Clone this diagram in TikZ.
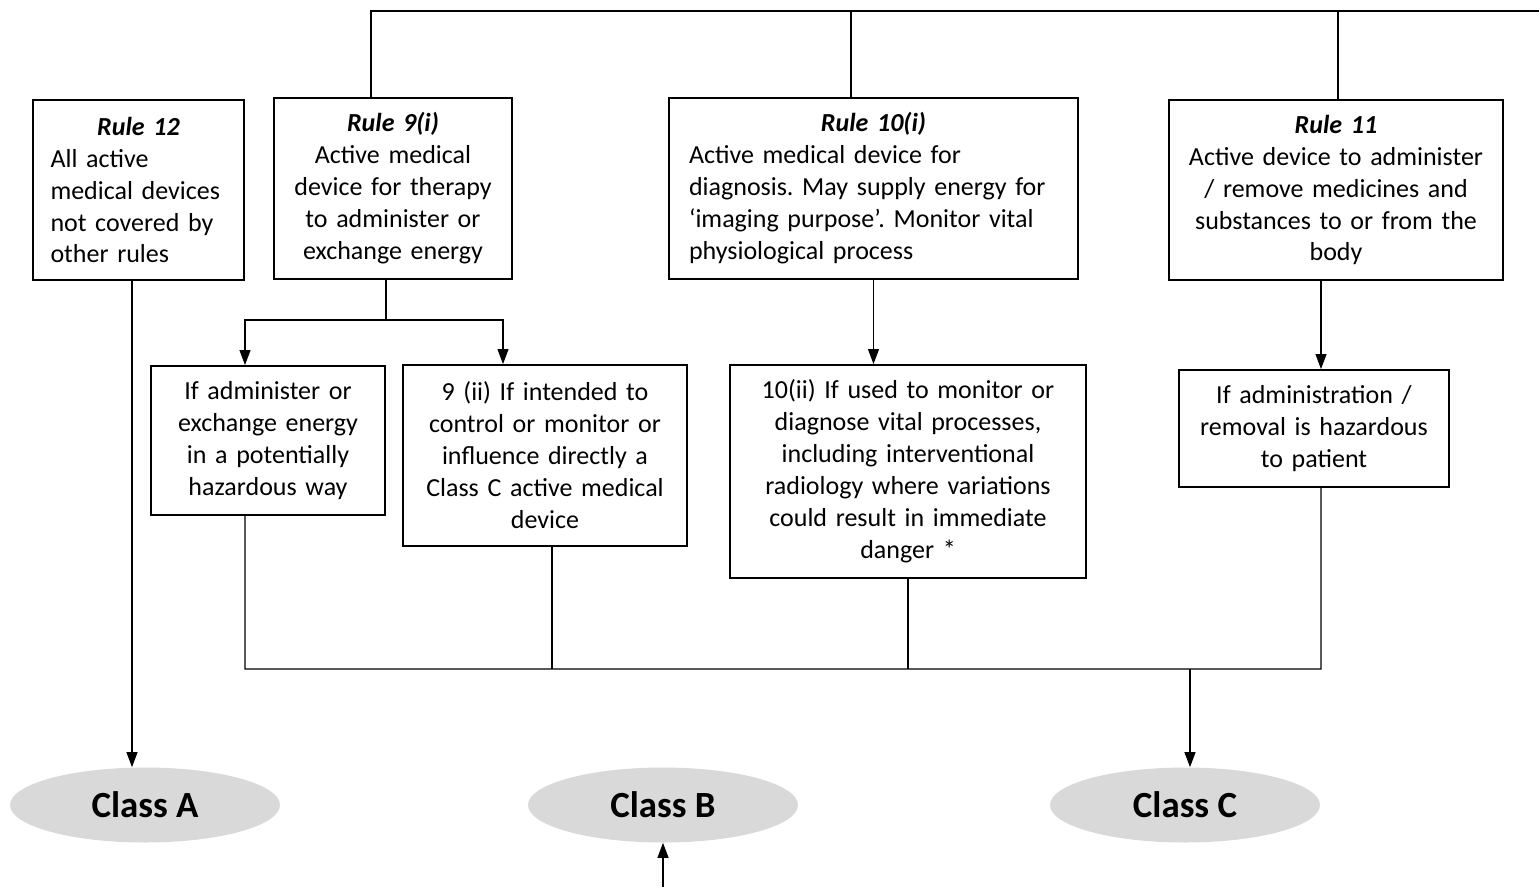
\documentclass[tikz,border=0pt]{standalone}
\usepackage{fontspec}
\setmainfont{Carlito}
\usetikzlibrary{
  arrows.meta,
  positioning,
  shapes.geometric
}
\newcommand{\ruletitle}[1]{\makebox[\linewidth]{\bfseries\itshape #1}}
\frenchspacing

\begin{document}
\begin{tikzpicture}[
  x=0.02cm, y=-0.02cm,
  font=\fontsize{14.8}{18.2}\selectfont,
  rulebox/.style={
    rectangle, draw=black, line width=1.1pt, fill=white,
    inner xsep=0.3cm, inner ysep=0pt, align=center
  },
  classnode/.style={
    ellipse, fill=black!15, minimum width=5.4cm, minimum height=1.5cm,
    font=\fontsize{21}{24}\selectfont\bfseries
  },
  link/.style={black, line width=0.6pt},
  arrow/.style={link, -{Triangle[length=0.3cm, width=0.22cm]}},
]
\useasboundingbox (0,0) rectangle (1539,887);

% Top row: rules
\node[rulebox, align=left, inner xsep=0.35cm, text width=3.52cm, minimum height=3.6cm] (r12) at (138.5,190)
  {\ruletitle{Rule 12}\\All active\\medical devices\\not covered by\\other rules};
\node[rulebox, text width=4.16cm, minimum height=3.62cm] (r9) at (393,188.5)
  {\textbf{\textit{Rule 9(i)}}\\Active medical\\device for therapy\\to administer or\\exchange energy};
\node[rulebox, align=left, inner xsep=0.4cm, text width=7.38cm, minimum height=3.62cm] (r10) at (873.5,188.5)
  {\ruletitle{Rule 10(i)}\\Active medical device for\\diagnosis. May supply energy for\\‘imaging purpose’. Monitor vital\\physiological process};
\node[rulebox, text width=6.08cm, minimum height=3.6cm] (r11) at (1336,190)
  {\textbf{\textit{Rule 11}}\\Active device to administer\\/ remove medicines and\\substances to or from the\\body};

% Middle row: conditions
\node[rulebox, text width=4.08cm, minimum height=2.98cm] (ca) at (268,440.5)
  {If administer or\\exchange energy\\in a potentially\\hazardous way};
\node[rulebox, text width=5.08cm, minimum height=3.62cm] (cb) at (545,455.5)
  {9 (ii) If intended to\\control or monitor or\\influence directly a\\Class C active medical\\device};
\node[rulebox, text width=6.52cm, minimum height=4.26cm] (cc) at (908,471.5)
  {10(ii) If used to monitor or\\diagnose vital processes,\\including interventional\\radiology where variations\\could result in immediate\\danger *};
\node[rulebox, text width=4.8cm, minimum height=2.34cm] (cd) at (1314,428.5)
  {If administration /\\removal is hazardous\\to patient};

% Bottom row: classes
\node[classnode] (A) at (145,805) {Class A};
\node[classnode] (B) at (663,805) {Class B};
\node[classnode] (C) at (1185,805) {Class C};

% Helper points
\coordinate (t9) at (371,11);
\coordinate (t10) at (851,11);
\coordinate (t11) at (1338,11);
\coordinate (tend) at (1539,11);
\coordinate (s9) at (386,320);
\coordinate (busR) at (1321,669);
\coordinate (bin) at (663,887);

% Top line into the rules
\draw[link] (t9 |- r9.north) -- (t9) -- (tend);
\draw[link] (t10) -- (t10 |- r10.north);
\draw[link] (t11) -- (t11 |- r11.north);

% Rule 12 straight to class A
\draw[arrow] ([xshift=-0.26cm]A.north |- r12.south) -- ([xshift=-0.26cm]A.north);

% Rules to conditions
\draw[link] (s9 |- r9.south) -- (s9);
\draw[arrow] (s9) -| ([xshift=-0.46cm]ca.north);
\draw[arrow] (s9) -| ([xshift=-0.84cm]cb.north);
\draw[arrow] (r10.south) -- (r10.south |- cc.north);
\draw[arrow] ([xshift=0.14cm]cd.north |- r11.south) -- ([xshift=0.14cm]cd.north);

% Conditions join and go to class C
\draw[link] ([xshift=-0.46cm]ca.south) |- (busR) -- ([xshift=0.14cm]cd.south);
\draw[link] ([xshift=0.14cm]cb.south) -- ([xshift=0.14cm]cb.south |- busR);
\draw[link] (cc.south) -- (cc.south |- busR);
\draw[arrow] ([xshift=0.1cm]C.north |- busR) -- ([xshift=0.1cm]C.north);

% Class B from below
\draw[arrow] (bin) -- (B.south);

\end{tikzpicture}
\end{document}
